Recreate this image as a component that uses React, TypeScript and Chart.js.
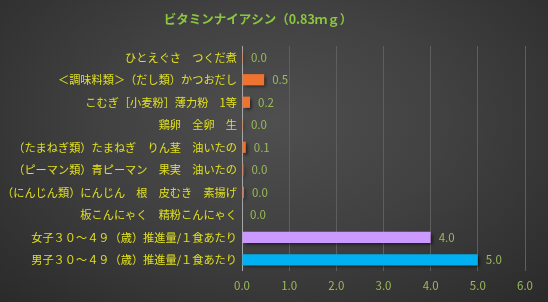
import React, { useEffect, useRef } from "react";
import { Chart, registerables } from "chart.js";

Chart.register(...registerables);

const titleText = "ビタミンナイアシン（0.83ｍｇ）";
const categories = [
  "ひとえぐさ　つくだ煮",
  "＜調味料類＞（だし類）かつおだし",
  "こむぎ［小麦粉］薄力粉　1等",
  "鶏卵　全卵　生",
  "（たまねぎ類）たまねぎ　りん茎　油いたの",
  "（ピーマン類）青ピーマン　果実　油いたの",
  "（にんじん類）にんじん　根　皮むき　素揚げ",
  "板こんにゃく　精粉こんにゃく",
  "女子３０～４９（歳）推進量/１食あたり",
  "男子３０～４９（歳）推進量/１食あたり",
];
const values = [0.02, 0.47, 0.17, 0.02, 0.08, 0.03, 0.04, 0.0, 4.0, 5.0];
const xTicks = [0, 1, 2, 3, 4, 5, 6];

const barColors = [
  "#EE7330", "#EE7330", "#EE7330", "#EE7330", "#EE7330",
  "#EE7330", "#EE7330", "#EE7330", "#CC99FF", "#00B0F0",
];

const JP = "'Noto Sans CJK JP', 'Noto Sans', sans-serif";

export default function App() {
  const ref = useRef<HTMLCanvasElement | null>(null);
  useEffect(() => {
    document.body.style.margin = "0";
    const canvas = ref.current!;
    const valueLabels = {
      id: "valueLabels",
      afterDatasetsDraw(chart: any) {
        const ctx = chart.ctx;
        const meta = chart.getDatasetMeta(0);
        ctx.save();
        ctx.font = `11.5px ${JP}`;
        ctx.fillStyle = "#9BBB59";
        ctx.textAlign = "left";
        ctx.textBaseline = "middle";
        meta.data.forEach((bar: any, i: number) => {
          ctx.fillText(values[i].toFixed(1), bar.x + 8, bar.y);
        });
        ctx.restore();
      },
    };
    const shadow = {
      id: "barShadow",
      beforeDatasetsDraw(chart: any) {
        const ctx = chart.ctx;
        ctx.save();
        ctx.shadowColor = "rgba(0,0,0,0.55)";
        ctx.shadowOffsetX = 2;
        ctx.shadowOffsetY = 2;
        ctx.shadowBlur = 3;
      },
      afterDatasetsDraw(chart: any) {
        chart.ctx.restore();
      },
    };
    const titlePlugin = {
      id: "customTitle",
      afterDraw(chart: any) {
        const ctx = chart.ctx;
        ctx.save();
        ctx.font = `bold 12.5px ${JP}`;
        ctx.fillStyle = "#8CC63F";
        ctx.textAlign = "center";
        ctx.textBaseline = "middle";
        ctx.fillText(titleText, 258, 19);
        ctx.restore();
      },
    };
    const chart = new Chart(canvas, {
      type: "bar",
      data: {
        labels: categories,
        datasets: [
          {
            data: values,
            backgroundColor: barColors,
            barPercentage: 0.5,
            categoryPercentage: 1,
          },
        ],
      },
      options: {
        indexAxis: "y",
        animation: false,
        responsive: false,
        maintainAspectRatio: false,
        layout: { padding: { top: 46, right: 23, left: 0, bottom: 0 } },
        plugins: {
          legend: { display: false },
          title: { display: false },
          tooltip: { enabled: false },
        },
        scales: {
          x: {
            min: 0,
            max: 6,
            afterBuildTicks(scale: any) {
              scale.ticks = xTicks.map((v) => ({ value: v }));
            },
            afterFit(scale: any) {
              scale.height = 31;
            },
            ticks: {
              color: "#9BBB59",
              font: { family: JP, size: 11.5 },
              padding: 8,
              callback: (v: any) => Number(v).toFixed(1),
            },
            grid: {
              drawTicks: false,
              color: (c: any) => (c.tick && c.tick.value === 0 ? "#A6A6A6" : "#5E5E5E"),
              lineWidth: 1,
            },
            border: { display: false },
          },
          y: {
            afterFit(scale: any) {
              scale.width = 242;
            },
            ticks: {
              color: "#E0E020",
              font: { family: JP, size: 11.2 },
              padding: 5,
            },
            grid: { display: false, drawTicks: false },
            border: { display: false },
          },
        },
      },
      plugins: [shadow, valueLabels, titlePlugin],
    });
    return () => chart.destroy();
  }, []);
  return (
    <div
      style={{
        width: 548,
        height: 302,
        background:
          "radial-gradient(ellipse at 50% 40%, #4f4f4f 0%, #414141 45%, #2a2a2a 100%)",
      }}
    >
      <canvas ref={ref} width={548} height={302} style={{ display: "block" }} />
    </div>
  );
}
